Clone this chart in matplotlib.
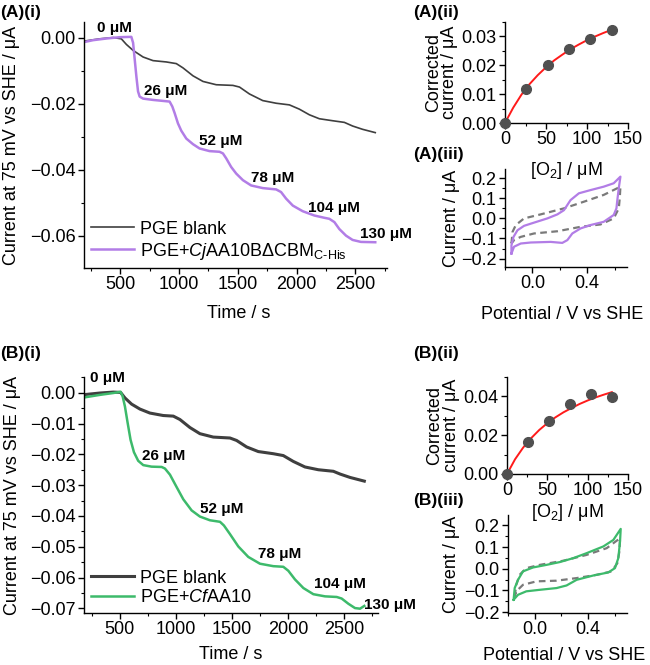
"""O2 titration chronoamperometry + MM fits + CVs for two AA10 variants."""

import numpy as np
import matplotlib
matplotlib.use('Agg')
import matplotlib.pyplot as plt
from matplotlib.ticker import MultipleLocator, FuncFormatter

plt.rcParams['font.family'] = ['Liberation Sans', 'DejaVu Sans']
plt.rcParams['mathtext.fontset'] = 'custom'
plt.rcParams['mathtext.rm'] = 'Liberation Sans'
plt.rcParams['mathtext.it'] = 'Liberation Sans:italic'
plt.rcParams['mathtext.bf'] = 'Liberation Sans:bold'
plt.rcParams['font.size'] = 13

GREY = '#3f3f3f'
PURPLE = '#b27de6'
GREEN = '#3dba6b'
DASH_GREY = '#7a7a7a'
FIT_RED = '#ff1a1a'
DOT = '#505050'

# ---- (A)(i) chronoamperometry, CjAA10BΔCBM ----
A_BLANK_T = [188, 324, 438, 508, 551, 608, 693, 778, 891, 976, 1033, 1118, 1203, 1316,
             1458, 1514, 1599, 1712, 1826, 1939, 2024, 2109, 2194, 2307, 2407, 2477,
             2562, 2670]
A_BLANK_I = [-0.0010, -0.0003, 0.0001, -0.0003, -0.0020, -0.0038, -0.0058, -0.0069,
             -0.0073, -0.0078, -0.0091, -0.0115, -0.0132, -0.0142, -0.0144, -0.0149,
             -0.0170, -0.0190, -0.0198, -0.0203, -0.0216, -0.0233, -0.0245, -0.0251,
             -0.0256, -0.0267, -0.0277, -0.0287]
A_ENZ_T = [188, 268, 381, 494, 593, 608, 622, 636, 650, 664, 693, 778, 863, 919, 942,
           962, 990, 1018, 1061, 1118, 1174, 1259, 1344, 1373, 1401, 1443, 1486, 1543,
           1613, 1712, 1826, 1868, 1911, 1968, 2052, 2151, 2237, 2279, 2322, 2364, 2421,
           2477, 2548, 2670]
A_ENZ_I = [-0.0013, -0.0007, -0.0002, 0.0002, 0.0003, -0.0015, -0.0066, -0.0117,
           -0.0162, -0.0178, -0.0184, -0.0188, -0.0191, -0.0193, -0.0208, -0.0228,
           -0.0259, -0.0281, -0.0305, -0.0322, -0.0335, -0.0343, -0.0345, -0.0350,
           -0.0365, -0.0391, -0.0411, -0.0431, -0.0447, -0.0455, -0.0459, -0.0467,
           -0.0487, -0.0508, -0.0525, -0.0538, -0.0545, -0.0548, -0.0558, -0.0579,
           -0.0599, -0.0612, -0.0618, -0.0619]
A_CONC_LABELS = ['0 μM', '26 μM', '52 μM', '78 μM', '104 μM', '130 μM']
A_CONC_T = [452, 882, 1358, 1797, 2322, 2761]
A_CONC_I = [0.0030, -0.0160, -0.0312, -0.0425, -0.0514, -0.0593]

# ---- (B)(i) chronoamperometry, CfAA10 ----
B_BLANK_T = [188, 322, 441, 506, 545, 604, 678, 767, 886, 976, 1035, 1124, 1213, 1332,
             1481, 1540, 1629, 1733, 1867, 1956, 2045, 2149, 2268, 2402, 2462, 2551, 2678]
B_BLANK_I = [-0.0006, -0.0001, 0.0002, 0.0001, -0.0017, -0.0037, -0.0053, -0.0066,
             -0.0074, -0.0076, -0.0087, -0.0113, -0.0133, -0.0144, -0.0147, -0.0155,
             -0.0176, -0.0191, -0.0198, -0.0204, -0.0223, -0.0241, -0.0250, -0.0255,
             -0.0264, -0.0275, -0.0287]
B_ENZ_T = [188, 322, 441, 506, 524, 545, 568, 595, 625, 663, 708, 782, 872, 901, 946,
           1005, 1065, 1139, 1213, 1302, 1392, 1427, 1481, 1555, 1644, 1748, 1867, 1956,
           2001, 2060, 2135, 2224, 2328, 2432, 2476, 2536, 2595, 2640, 2678]
B_ENZ_I = [-0.0015, -0.0007, -0.0001, 0.0003, -0.0011, -0.0045, -0.0096, -0.0153,
           -0.0193, -0.0221, -0.0235, -0.0240, -0.0241, -0.0246, -0.0266, -0.0306,
           -0.0346, -0.0382, -0.0402, -0.0414, -0.0419, -0.0431, -0.0459, -0.0499,
           -0.0533, -0.0555, -0.0563, -0.0565, -0.0578, -0.0606, -0.0634, -0.0654,
           -0.0661, -0.0663, -0.0668, -0.0685, -0.0699, -0.0701, -0.0692]
B_CONC_LABELS = ['0 μM', '26 μM', '52 μM', '78 μM', '104 μM', '130 μM']
B_CONC_T = [387, 886, 1406, 1927, 2462, 2907]
B_CONC_I = [0.0047, -0.0207, -0.0377, -0.0524, -0.0620, -0.0688]

# ---- (ii) corrected current vs [O2] ----
O2_CONC = [0, 26, 52, 78, 104, 130]
A_CORR = [0.0, 0.0117, 0.0202, 0.0257, 0.0290, 0.0323]
B_CORR = [0.0, 0.0166, 0.0273, 0.0362, 0.0410, 0.0396]
FIT_CONC = [0, 10, 20, 30, 40, 50, 60, 70, 80, 90, 100, 110, 120, 130]
A_FIT = [0.0, 0.0053, 0.0098, 0.0135, 0.0166, 0.0193, 0.0217, 0.0237, 0.0256,
         0.0272, 0.0287, 0.0300, 0.0312, 0.0323]
B_FIT = [0.0, 0.0076, 0.0136, 0.0185, 0.0227, 0.0262, 0.0292, 0.0318, 0.0340,
         0.0361, 0.0379, 0.0395, 0.0409, 0.0422]

# ---- (iii) cyclic voltammograms ----
A_CV_E = [-0.153, -0.153, -0.138, -0.109, -0.061, 0.012, 0.109, 0.182, 0.230, 0.278,
          0.339, 0.424, 0.520, 0.593, 0.642, 0.630, 0.618, 0.613, 0.593, 0.520, 0.424,
          0.351, 0.291, 0.255, 0.218, 0.133, -0.012, -0.085, -0.134, -0.153]
A_CV_I = [-0.175, -0.134, -0.092, -0.059, -0.037, -0.021, 0.000, 0.020, 0.041, 0.091,
          0.125, 0.141, 0.158, 0.175, 0.208, 0.150, 0.083, 0.050, 0.017, -0.017,
          -0.033, -0.050, -0.075, -0.108, -0.122, -0.117, -0.120, -0.125, -0.141,
          -0.175]
A_BL_E = [-0.153, -0.145, -0.121, -0.061, 0.060, 0.230, 0.375, 0.520, 0.642, 0.637,
          0.630, 0.593, 0.497, 0.351, 0.182, 0.012, -0.085, -0.134, -0.153]
A_BL_I = [-0.125, -0.067, -0.033, 0.000, 0.020, 0.050, 0.083, 0.117, 0.158, 0.100,
          0.050, 0.000, -0.030, -0.042, -0.064, -0.075, -0.092, -0.108, -0.125]
B_CV_E = [-0.158, -0.150, -0.125, -0.088, -0.013, 0.088, 0.188, 0.288, 0.388, 0.513,
          0.588, 0.643, 0.638, 0.625, 0.600, 0.550, 0.438, 0.313, 0.238, 0.163, 0.038,
          -0.063, -0.125, -0.158]
B_CV_I = [-0.143, -0.089, -0.051, -0.012, 0.006, 0.018, 0.031, 0.049, 0.072, 0.103,
          0.133, 0.184, 0.126, 0.049, 0.003, -0.017, -0.031, -0.051, -0.077, -0.089,
          -0.097, -0.104, -0.120, -0.143]
B_BL_E = [-0.150, -0.138, -0.113, -0.063, 0.038, 0.213, 0.388, 0.538, 0.638, 0.633,
          0.618, 0.575, 0.463, 0.313, 0.163, 0.013, -0.088, -0.138, -0.150]
B_BL_I = [-0.127, -0.074, -0.028, 0.003, 0.018, 0.037, 0.064, 0.095, 0.141, 0.080,
          0.026, -0.012, -0.028, -0.043, -0.055, -0.058, -0.074, -0.104, -0.127]

FIG_W, FIG_H = 650, 665


def px_axes(fig, left, right, top, bottom):
    """Axes from pixel box (origin top-left)."""
    ax = fig.add_axes([left / FIG_W, 1 - bottom / FIG_H,
                       (right - left) / FIG_W, (bottom - top) / FIG_H])
    ax.set_facecolor('none')
    return ax


def origin_style(ax):
    for side in ('top', 'right'):
        ax.spines[side].set_visible(False)
    for side in ('left', 'bottom'):
        ax.spines[side].set_linewidth(1.0)
    ax.tick_params(which='major', direction='out', length=4, width=1.0, labelsize=13, pad=2)
    ax.tick_params(which='minor', direction='out', length=2.5, width=0.8)


def num_fmt(decimals):
    return FuncFormatter(lambda v, pos: f'{v:.{decimals}f}'.replace('-', '\u2212'))


def plot_trace(ax, blank_t, blank_i, enz_t, enz_i, enz_color, enz_label, blank_lw,
               labels, lab_t, lab_i, leg_y):
    ax.plot(blank_t, blank_i, color=GREY, lw=blank_lw, label='PGE blank')
    ax.plot(enz_t, enz_i, color=enz_color, lw=1.8, label=enz_label)
    for txt, t, i in zip(labels, lab_t, lab_i):
        ax.text(t, i, txt, ha='center', va='center', fontsize=11, fontweight='bold',
                clip_on=False)
    ax.xaxis.set_major_locator(MultipleLocator(500))
    ax.xaxis.set_minor_locator(MultipleLocator(250))
    ax.set_xlabel('Time / s')
    ax.set_ylabel('Current at 75 mV vs SHE / μA')
    ax.legend(loc='lower left', frameon=False, handlelength=2.4, handletextpad=0.35,
              labelspacing=0.15, borderaxespad=0.3, fontsize=13,
              bbox_to_anchor=(-0.02, leg_y))
    ax.yaxis.set_major_formatter(num_fmt(2))


def plot_fit(ax, corr, fit, ymax, ymaj):
    ax.plot(FIT_CONC, fit, color=FIT_RED, lw=1.4, zorder=2)
    ax.plot(O2_CONC, corr, 'o', color=DOT, ms=7, zorder=3, clip_on=False)
    ax.set_xlim(0, 150)
    ax.set_ylim(0, ymax)
    ax.xaxis.set_major_locator(MultipleLocator(50))
    ax.xaxis.set_minor_locator(MultipleLocator(25))
    ax.yaxis.set_major_locator(MultipleLocator(ymaj))
    ax.yaxis.set_minor_locator(MultipleLocator(ymaj / 2))
    ax.yaxis.set_major_formatter(num_fmt(2))
    ax.set_xlabel('[O$_2$] / μM')
    ax.set_ylabel('Corrected\ncurrent / μA', linespacing=0.95)


def plot_cv(ax, e, i, bl_e, bl_i, color, xlim, ylim):
    ax.plot(bl_e, bl_i, color=DASH_GREY, lw=1.6, ls=(0, (3, 2)))
    ax.plot(e, i, color=color, lw=1.6)
    ax.set_xlim(*xlim)
    ax.set_ylim(*ylim)
    ax.xaxis.set_major_locator(MultipleLocator(0.4))
    ax.xaxis.set_minor_locator(MultipleLocator(0.2))
    ax.yaxis.set_major_locator(MultipleLocator(0.1))
    ax.yaxis.set_minor_locator(MultipleLocator(0.05))
    ax.xaxis.set_major_formatter(num_fmt(1))
    ax.yaxis.set_major_formatter(num_fmt(1))
    ax.set_xlabel('Potential / V vs SHE')
    ax.set_ylabel('Current / μA')


def main():
    fig = plt.figure(figsize=(FIG_W / 100, FIG_H / 100), dpi=100)

    # (A)(i)
    ax = px_axes(fig, 84, 387, 22, 268)
    origin_style(ax)
    plot_trace(ax, A_BLANK_T, A_BLANK_I, A_ENZ_T, A_ENZ_I, PURPLE,
               r'PGE+$\mathit{Cj}$AA10BΔCBM$_{\mathrm{C}\text{-}\mathrm{His}}$', 1.2,
               A_CONC_LABELS, A_CONC_T, A_CONC_I, -0.025)
    ax.set_xlim(190, 2770)
    ax.set_ylim(-0.0697, 0.0048)
    ax.yaxis.set_major_locator(MultipleLocator(0.02))
    ax.yaxis.set_minor_locator(MultipleLocator(0.01))
    ax.yaxis.set_label_coords(-0.21, 0.5)
    ax.xaxis.set_label_coords(0.51, -0.15)

    # (B)(i)
    ax = px_axes(fig, 84, 378, 377, 613)
    origin_style(ax)
    plot_trace(ax, B_BLANK_T, B_BLANK_I, B_ENZ_T, B_ENZ_I, GREEN,
               r'PGE+$\mathit{Cf}$AA10', 2.2,
               B_CONC_LABELS, B_CONC_T, B_CONC_I, -0.025)
    ax.set_xlim(180, 2800)
    ax.set_ylim(-0.0715, 0.0051)
    ax.yaxis.set_major_locator(MultipleLocator(0.01))
    ax.yaxis.set_minor_locator(MultipleLocator(0.005))
    ax.yaxis.set_label_coords(-0.215, 0.5)
    ax.xaxis.set_label_coords(0.5, -0.14)

    # (A)(ii)
    ax = px_axes(fig, 505, 628, 22, 123)
    origin_style(ax)
    plot_fit(ax, A_CORR, A_FIT, 0.035, 0.01)
    ax.yaxis.set_label_coords(-0.38, 0.5)
    ax.xaxis.set_label_coords(0.5, -0.37)

    # (A)(iii)
    ax = px_axes(fig, 505, 627, 169, 267)
    origin_style(ax)
    plot_cv(ax, A_CV_E, A_CV_I, A_BL_E, A_BL_I, PURPLE, (-0.2, 0.69), (-0.242, 0.246))
    ax.yaxis.set_label_coords(-0.37, 0.5)
    ax.xaxis.set_label_coords(0.47, -0.40)

    # (B)(ii)
    ax = px_axes(fig, 507, 628, 377, 474)
    origin_style(ax)
    plot_fit(ax, B_CORR, B_FIT, 0.05, 0.02)
    ax.yaxis.set_label_coords(-0.39, 0.5)
    ax.xaxis.set_label_coords(0.5, -0.29)

    # (B)(iii)
    ax = px_axes(fig, 508, 627, 515, 613)
    origin_style(ax)
    plot_cv(ax, B_CV_E, B_CV_I, B_BL_E, B_BL_I, GREEN, (-0.2, 0.69), (-0.204, 0.248))
    ax.yaxis.set_label_coords(-0.40, 0.5)
    ax.xaxis.set_label_coords(0.47, -0.35)

    panel_kw = dict(fontsize=12.5, fontweight='bold', va='center', ha='left')
    fig.text(0 / FIG_W, 1 - 12 / FIG_H, '(A)(i)', **panel_kw)
    fig.text(413 / FIG_W, 1 - 12 / FIG_H, '(A)(ii)', **panel_kw)
    fig.text(413 / FIG_W, 1 - 154 / FIG_H, '(A)(iii)', **panel_kw)
    fig.text(0 / FIG_W, 1 - 353 / FIG_H, '(B)(i)', **panel_kw)
    fig.text(413 / FIG_W, 1 - 353 / FIG_H, '(B)(ii)', **panel_kw)
    fig.text(413 / FIG_W, 1 - 500 / FIG_H, '(B)(iii)', **panel_kw)

    fig.savefig('out.png', dpi=100)
    plt.close(fig)


if __name__ == '__main__':
    main()
